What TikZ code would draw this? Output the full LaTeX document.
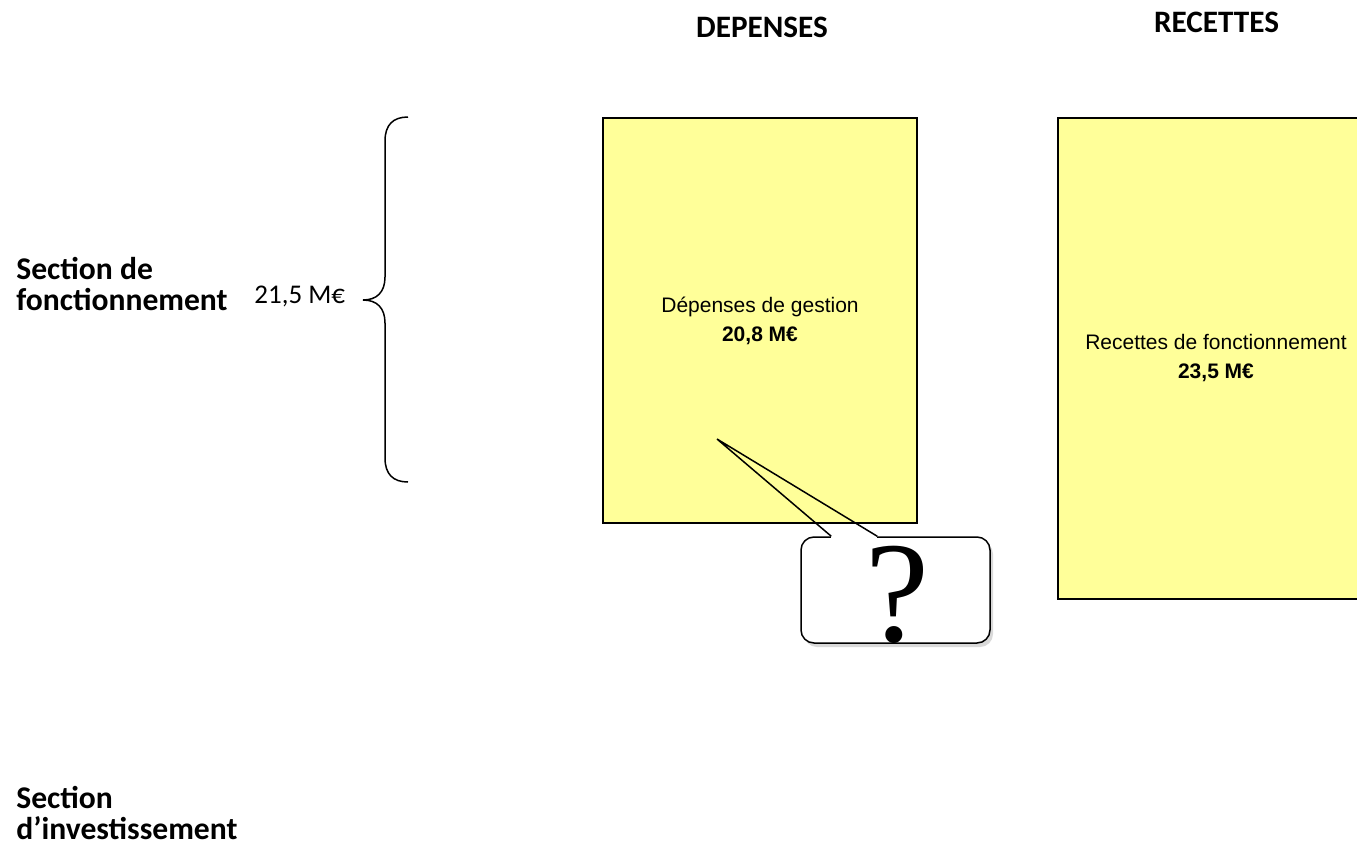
\documentclass[tikz,border=0pt]{standalone}
\usepackage{fontspec}
\setmainfont{Carlito}
\newfontfamily\arialfont{Liberation Sans}
\newfontfamily\timesfont{Liberation Serif}
\usetikzlibrary{shadows}
\usetikzlibrary{calc}
\definecolor{postit}{RGB}{255,255,153}
\tikzset{
	heading/.style = {
		inner sep=0pt,
		font=\bfseries\fontsize{15.6}{15.6}\selectfont,
		anchor=base
	},
	section_label/.style = {
		align=left,
		inner sep=0pt,
		font=\bfseries\fontsize{15.8}{15.5}\selectfont,
		anchor=base west
	},
	total_label/.style = {
		inner sep=0pt,
		font=\fontsize{13.5}{13.5}\selectfont,
		anchor=base west
	},
	budget_box/.style = {
		rectangle,
		align=center,
		inner sep=0pt,
		draw=black,
		fill=postit,
		line width=1pt,
		font=\arialfont\fontsize{10.5}{14.5}\selectfont,
		minimum width=157pt
	},
	bubble/.style = {
		rectangle,
		rounded corners=6.5pt,
		draw=black,
		fill=white,
		line width=0.75pt,
		minimum width=94.5pt,
		minimum height=53pt,
		drop shadow={shadow xshift=1.5pt, shadow yshift=-2pt, opacity=0.15, fill=black}
	},
	qmark/.style = {
		inner sep=0pt,
		font=\timesfont\fontsize{72}{72}\selectfont,
		anchor=base
	},
}

\begin{document}
\begin{tikzpicture}[x=0.5pt, y=-0.5pt]
\useasboundingbox (0,0) rectangle (1357,847);
% column headings
\node [heading] (h_dep) at (762,37) {DEPENSES};
\node [heading] (h_rec) at (1216.5,32) {RECETTES};
% sections (base = last line)
\node [section_label] (s_fonct) at (16,310) {Section de\\fonctionnement};
\node [section_label] (s_invest) at (16,839) {Section\\d’investissement};
\node [total_label] (t_fonct) at (254,303) {21,5 M€};
% brace
\coordinate (brace_tip) at (363,300);
\draw [line width=0.75pt] (408,117) .. controls (393,117) and (385,125) .. (385,141)
	-- (385,277) .. controls (385,292) and (377,300) .. (brace_tip)
	.. controls (377,300) and (385,308) .. (385,323)
	-- (385,458) .. controls (385,474) and (393,482) .. (408,482);
% boxes
\node [budget_box, minimum height=202.5pt] (dep) at (760,320.5) {Dépenses de gestion\\\textbf{20,8 M€}};
\node [budget_box, minimum width=158pt, minimum height=240.5pt] (rec) at (1216,358.5) {Recettes de fonctionnement\\\textbf{23,5 M€}};
% callout
\node [bubble] (bubble) at (895.5,590) {};
\node [qmark] (q) at (897,641) {?};
\coordinate (ptr_tip) at (717,439);
\coordinate (ptr_l) at ($(bubble.north west)+(31,0)$);
\coordinate (ptr_r) at ($(bubble.north west)+(77,0)$);
\draw [white, line width=1.5pt] (ptr_l) -- (ptr_r);
\draw [line width=0.75pt] (ptr_l) -- (ptr_tip) -- (ptr_r);
\end{tikzpicture}
\end{document}
